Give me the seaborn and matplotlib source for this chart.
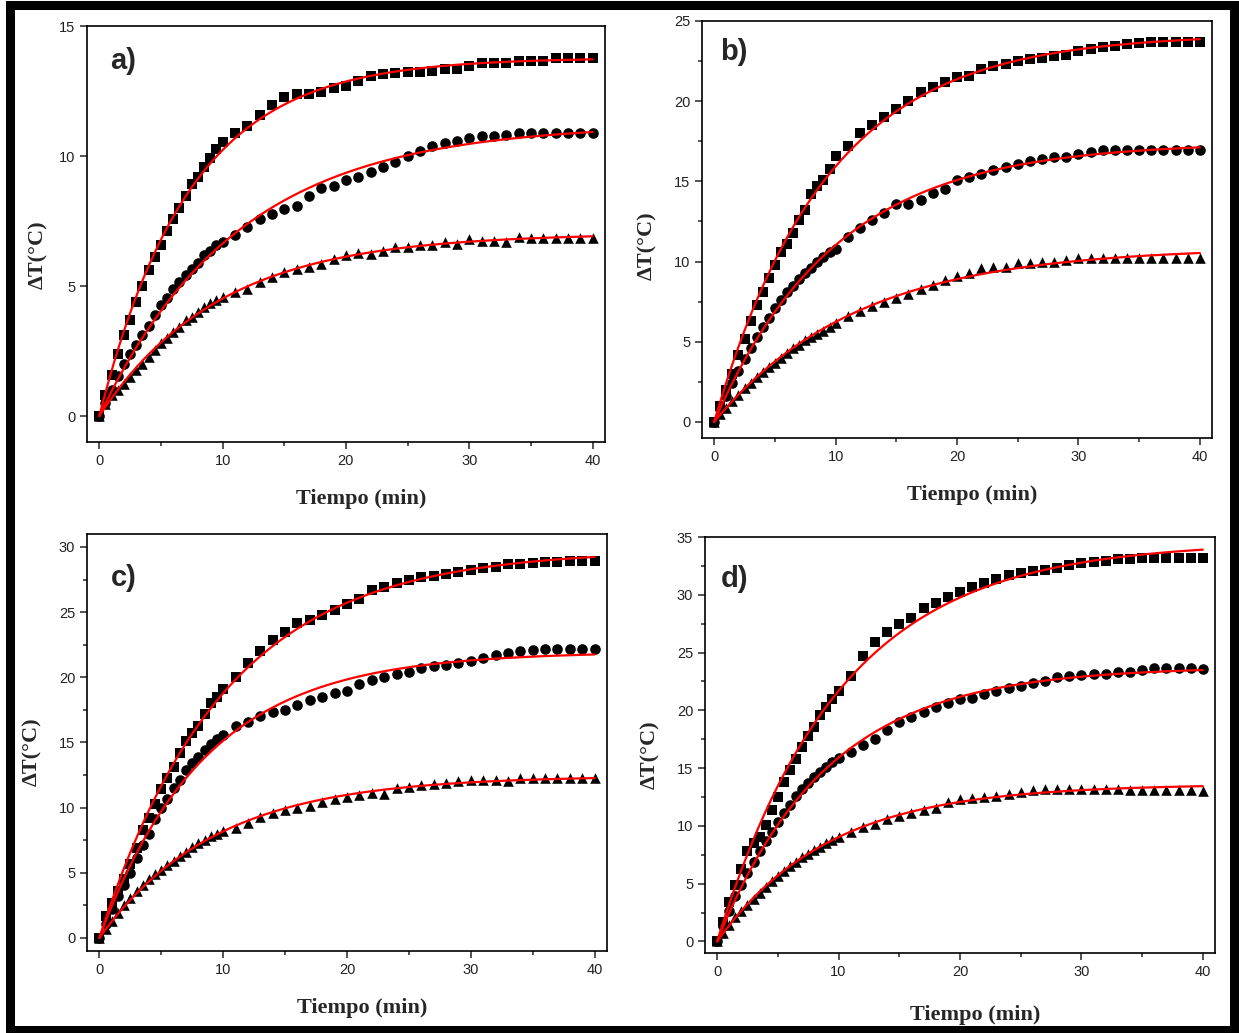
import numpy as np
import pandas as pd
import matplotlib
matplotlib.use("Agg")
import matplotlib.pyplot as plt
import seaborn as sns
from matplotlib.patches import Rectangle
from matplotlib.ticker import MultipleLocator

# ==========================================
# Data
# ==========================================

time_min = [0, 0.5, 1, 1.5, 2, 2.5, 3, 3.5, 4, 4.5, 5, 5.5, 6, 6.5, 7, 7.5, 8, 8.5, 9, 9.5, 10,
            11, 12, 13, 14, 15, 16, 17, 18, 19, 20, 21, 22, 23, 24, 25, 26, 27, 28, 29, 30,
            31, 32, 33, 34, 35, 36, 37, 38, 39, 40]

a_square = [0, 0.8, 1.57, 2.4, 3.1, 3.7, 4.4, 5.0, 5.6, 6.1, 6.56, 7.1, 7.58, 8.0, 8.48, 8.93, 9.18, 9.57, 9.91, 10.27, 10.55,
            10.9, 11.16, 11.57, 11.96, 12.28, 12.37, 12.38, 12.47, 12.63, 12.70, 12.89, 13.06, 13.15, 13.18, 13.24, 13.24, 13.27, 13.36, 13.36, 13.47,
            13.57, 13.57, 13.57, 13.66, 13.66, 13.66, 13.78, 13.78, 13.78, 13.78]
a_circle = [0, 0.5, 1.0, 1.55, 2.02, 2.38, 2.72, 3.11, 3.47, 3.87, 4.26, 4.54, 4.87, 5.15, 5.43, 5.64, 5.9, 6.18, 6.33, 6.56, 6.69,
            6.97, 7.26, 7.56, 7.77, 7.97, 8.07, 8.48, 8.76, 8.86, 9.09, 9.18, 9.37, 9.57, 9.78, 9.99, 10.2, 10.4, 10.5, 10.59, 10.68,
            10.78, 10.78, 10.8, 10.88, 10.88, 10.88, 10.88, 10.88, 10.88, 10.88]
a_triangle = [0, 0.45, 0.8, 1.0, 1.25, 1.51, 1.76, 2.02, 2.28, 2.53, 2.79, 3.0, 3.24, 3.43, 3.68, 3.81, 4.0, 4.19, 4.36, 4.45, 4.58,
              4.77, 4.9, 5.15, 5.35, 5.54, 5.66, 5.73, 5.86, 6.05, 6.2, 6.28, 6.24, 6.33, 6.5, 6.5, 6.59, 6.59, 6.69, 6.62, 6.79,
              6.75, 6.75, 6.71, 6.88, 6.85, 6.85, 6.85, 6.85, 6.85, 6.85]

b_square = [0, 1.0, 2.0, 3.0, 4.2, 5.2, 6.3, 7.3, 8.1, 9.0, 9.8, 10.6, 11.1, 11.8, 12.6, 13.2, 14.2, 14.7, 15.1, 15.8, 16.6,
            17.2, 18.0, 18.5, 19.0, 19.5, 20.0, 20.6, 20.9, 21.2, 21.5, 21.6, 22.0, 22.2, 22.3, 22.5, 22.6, 22.7, 22.8, 22.9, 23.1,
            23.25, 23.35, 23.45, 23.55, 23.65, 23.7, 23.7, 23.7, 23.7, 23.7]
b_circle = [0, 0.8, 1.6, 2.4, 3.2, 3.9, 4.6, 5.3, 5.9, 6.5, 7.1, 7.6, 8.1, 8.5, 8.9, 9.3, 9.6, 10.0, 10.3, 10.6, 10.8,
            11.55, 12.07, 12.6, 13.0, 13.6, 13.6, 13.83, 14.29, 14.55, 15.07, 15.28, 15.49, 15.73, 15.9, 16.1, 16.27, 16.42, 16.52, 16.52, 16.69,
            16.83, 16.94, 16.98, 16.98, 16.98, 16.98, 16.98, 16.94, 16.94, 16.94]
b_triangle = [0, 0.5, 0.9, 1.3, 1.7, 2.1, 2.4, 2.8, 3.1, 3.4, 3.7, 4.0, 4.3, 4.6, 4.8, 5.1, 5.3, 5.5, 5.7, 5.9, 6.2,
              6.6, 6.9, 7.2, 7.5, 7.7, 8.0, 8.27, 8.55, 8.86, 9.07, 9.28, 9.59, 9.69, 9.69, 9.9, 9.9, 10.0, 10.0, 10.1, 10.2,
              10.2, 10.2, 10.2, 10.2, 10.2, 10.2, 10.2, 10.2, 10.2, 10.2]

c_square = [0, 1.7, 2.7, 3.6, 4.5, 5.7, 6.9, 8.3, 9.2, 10.3, 11.4, 12.3, 13.1, 14.2, 15.1, 15.7, 16.3, 17.2, 18.0, 18.5, 19.1,
            20.0, 21.1, 22.0, 22.85, 23.5, 24.2, 24.4, 24.8, 25.2, 25.6, 26.0, 26.7, 26.9, 27.2, 27.5, 27.7, 27.8, 27.95, 28.1, 28.2,
            28.4, 28.5, 28.7, 28.7, 28.8, 28.85, 28.85, 28.9, 28.9, 28.9]
c_circle = [0, 1.1, 2.2, 3.2, 4.1, 5.0, 6.1, 7.1, 8.0, 9.1, 10.0, 10.7, 11.5, 12.1, 12.9, 13.4, 13.9, 14.4, 14.9, 15.3, 15.6,
            16.3, 16.6, 17.0, 17.3, 17.5, 17.9, 18.25, 18.5, 18.76, 18.97, 19.48, 19.79, 20.04, 20.25, 20.42, 20.68, 20.86, 20.93, 21.11, 21.27,
            21.45, 21.7, 21.88, 22.03, 22.08, 22.2, 22.2, 22.2, 22.2, 22.2]
c_triangle = [0, 0.7, 1.3, 1.9, 2.5, 3.1, 3.6, 4.1, 4.5, 4.9, 5.2, 5.6, 5.9, 6.3, 6.6, 7.0, 7.3, 7.55, 7.8, 8.0, 8.2,
              8.4, 8.8, 9.3, 9.6, 9.8, 10.0, 10.1, 10.45, 10.65, 10.85, 11.0, 11.1, 11.05, 11.5, 11.6, 11.75, 11.8, 11.9, 12.05, 12.1,
              12.1, 12.1, 12.05, 12.25, 12.25, 12.25, 12.3, 12.3, 12.3, 12.25]

d_square = [0, 1.7, 3.4, 4.9, 6.3, 7.8, 8.5, 9.0, 10.1, 11.4, 12.5, 13.8, 14.8, 15.8, 16.8, 17.8, 18.6, 19.6, 20.3, 21.0, 21.7,
            23.0, 24.7, 25.9, 26.75, 27.5, 28.0, 28.85, 29.25, 29.8, 30.25, 30.7, 31.06, 31.4, 31.7, 31.87, 32.07, 32.15, 32.35, 32.56, 32.73,
            32.8, 32.93, 33.07, 33.13, 33.2, 33.2, 33.2, 33.2, 33.2, 33.2]
d_circle = [0, 1.3, 2.6, 3.9, 4.9, 5.9, 6.9, 7.8, 8.7, 9.5, 10.3, 11.1, 11.8, 12.6, 13.2, 13.7, 14.2, 14.7, 15.1, 15.5, 15.9,
            16.4, 17.0, 17.5, 18.3, 19.0, 19.4, 19.85, 20.3, 20.6, 21.0, 21.1, 21.4, 21.7, 21.9, 22.15, 22.4, 22.5, 22.9, 23.0, 23.07,
            23.15, 23.15, 23.3, 23.35, 23.5, 23.65, 23.65, 23.65, 23.65, 23.6]
d_triangle = [0, 0.75, 1.45, 2.1, 2.6, 3.2, 3.7, 4.2, 4.7, 5.2, 5.7, 6.1, 6.5, 6.9, 7.3, 7.6, 7.9, 8.2, 8.5, 8.8, 9.06,
              9.5, 9.9, 10.2, 10.6, 10.9, 11.1, 11.38, 11.52, 12.1, 12.3, 12.4, 12.5, 12.6, 12.8, 12.95, 13.1, 13.2, 13.23, 13.23, 13.23,
              13.23, 13.23, 13.23, 13.15, 13.15, 13.15, 13.15, 13.15, 13.15, 13.05]

panel_letters = ["a)", "b)", "c)", "d)"]
y_limits = [15, 25, 30, 35]
y_tops = [15, 25, 31, 35]

# ==========================================
# Exponential fit  dT = A (1 - exp(-t / tau))
# ==========================================

def exp_fit(t, y):
    t = np.asarray(t, float)
    y = np.asarray(y, float)
    best = None
    for tau in np.arange(1.0, 40.0, 0.01):
        f = 1 - np.exp(-t / tau)
        A = (f * y).sum() / (f * f).sum()
        err = ((A * f - y) ** 2).sum()
        if best is None or err < best[0]:
            best = (err, A, tau)
    tt = np.linspace(0, 40, 300)
    return tt, best[1] * (1 - np.exp(-tt / best[2]))

# ==========================================
# Figure
# ==========================================

sns.set_style("ticks")
plt.rcParams["font.family"] = ["Liberation Sans", "DejaVu Sans"]

fig = plt.figure(figsize=(12.39, 10.33), dpi=100)

positions = [
    [0.0702, 0.5721, 0.4180, 0.4027],
    [0.5666, 0.5760, 0.4116, 0.4037],
    [0.0702, 0.0794, 0.4197, 0.4037],
    [0.5690, 0.0774, 0.4116, 0.4027],
]
letter_pos = [(0.045, 0.915), (0.035, 0.925), (0.045, 0.895), (0.03, 0.90)]
xlabel_y = [-0.112, -0.112, -0.112, -0.125]
ylabel_xy = [(-0.075, 0.45), (-0.088, 0.46), (-0.087, 0.477), (-0.088, 0.476)]

panels = [
    (a_square, a_circle, a_triangle),
    (b_square, b_circle, b_triangle),
    (c_square, c_circle, c_triangle),
    (d_square, d_circle, d_triangle),
]

for i, (sq, ci, tr) in enumerate(panels):
    ax = fig.add_axes(positions[i])
    df = pd.DataFrame({"t": time_min, "sq": sq, "ci": ci, "tr": tr})

    for col, mk, size in [("sq", "s", 46), ("ci", "o", 58), ("tr", "^", 58)]:
        sns.scatterplot(data=df, x="t", y=col, marker=mk, s=size, color="black",
                        edgecolor="black", linewidth=0, ax=ax, zorder=2)
        tt, yy = exp_fit(df["t"], df[col])
        fit_df = pd.DataFrame({"t": tt, "fit": yy})
        sns.lineplot(data=fit_df, x="t", y="fit", color="#ff0000", linewidth=1.6,
                     ax=ax, zorder=3)

    ax.set_xlim(-1, 41)
    ax.set_ylim(-1, y_tops[i])
    ax.set_xticks([0, 10, 20, 30, 40])
    ax.xaxis.set_minor_locator(MultipleLocator(5))
    ax.set_yticks(np.arange(0, y_limits[i] + 1, 5))
    if i > 0:
        ax.yaxis.set_minor_locator(MultipleLocator(2.5))
    ax.tick_params(which="major", direction="out", length=5, width=1.1,
                   labelsize=10.5, labelcolor="#222222", top=False, right=False)
    ax.tick_params(which="minor", direction="out", length=3, width=1.1,
                   top=False, right=False)
    for s in ax.spines.values():
        s.set_visible(True)
        s.set_linewidth(1.2)
        s.set_color("black")

    ax.set_xlabel("Tiempo (min)", family="Liberation Serif", fontweight="bold",
                  fontsize=16)
    ax.xaxis.set_label_coords(0.53, xlabel_y[i])
    ax.set_ylabel("ΔT(°C)", family=["Liberation Serif", "DejaVu Serif"],
                  fontweight="bold", fontsize=16)
    ax.yaxis.set_label_coords(*ylabel_xy[i])

    ax.text(letter_pos[i][0], letter_pos[i][1], panel_letters[i],
            transform=ax.transAxes, fontsize=21, fontweight="bold",
            va="center", ha="left")

# thick black frame round the whole figure
fig.add_artist(Rectangle((9.5 / 1239, 1 - 1029.5 / 1033), (1234 - 9.5) / 1239,
                         (1029.5 - 5) / 1033, transform=fig.transFigure,
                         fill=False, edgecolor="black", linewidth=6.5))

plt.savefig("out.png", dpi=100)
plt.close()
